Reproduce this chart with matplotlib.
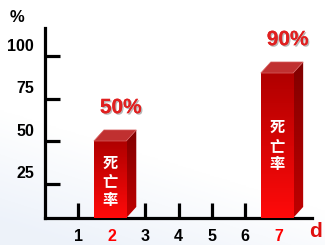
import numpy as np
import matplotlib
matplotlib.use("Agg")
import matplotlib.pyplot as plt
from matplotlib.patches import Polygon
import matplotlib.patheffects as pe

plt.rcParams['font.family'] = ['Liberation Sans', 'Noto Sans CJK SC', 'DejaVu Sans']

days = [1, 2, 3, 4, 5, 6, 7]
day_colors = ['black', 'red', 'black', 'black', 'black', 'black', 'red']
bar_days = [2, 7]
bar_values = [50, 90]
bar_labels = ['50%', '90%']
bar_text = '死\n亡\n率'
y_ticks = [25, 50, 75, 100]

W, H = 325, 245
fig = plt.figure(figsize=(W / 100, H / 100), dpi=100)

# faint bluish background towards the bottom left
bg = fig.add_axes([0, 0, 1, 1], zorder=-10)
gx, gy = np.meshgrid(np.linspace(0, 1, 200), np.linspace(0, 1, 200))
g = np.clip(1.2 - gy * 2.2 - gx * 0.9, 0, 1)
cols = np.ones((200, 200, 3))
cols[..., 0] -= 0.07 * g
cols[..., 1] -= 0.05 * g
cols[..., 2] -= 0.02 * g
bg.imshow(cols, extent=[0, 1, 0, 1], origin='lower', aspect='auto')
bg.axis('off')

x0, x1, ytop, ybot = 45, 312, 28, 218
ymin, ymax = 4.7, 116.5
ax = fig.add_axes([x0 / W, (H - ybot) / H, (x1 - x0) / W, (ybot - ytop) / H])
ax.set_facecolor('none')
for s in ['top', 'right']:
    ax.spines[s].set_visible(False)
for s in ['left', 'bottom']:
    ax.spines[s].set_linewidth(2.3)

ax.set_yticks(y_ticks)
ax.set_yticklabels([])
ax.tick_params(axis='y', direction='in', length=11, width=2.3)
for v in y_ticks:
    ax.annotate(str(v), xy=(0, v), xytext=(-8, 7), textcoords='offset points',
                ha='right', va='center', fontsize=11.5, fontweight='bold')

ax.set_xticks(days)
ax.set_xticklabels([str(d) for d in days], fontsize=11.5, fontweight='bold')
ax.tick_params(axis='x', direction='in', length=11, width=2.3, pad=8)
for lab, c in zip(ax.get_xticklabels(), day_colors):
    lab.set_color(c)

# 3d bars
w = 0.97
dx, dy = 0.3, 6.5
grad = np.linspace(0, 1, 100).reshape(-1, 1)
front_cmap = matplotlib.colors.LinearSegmentedColormap.from_list('f', ['#ff0a0a', '#b00000'])
side_cmap = matplotlib.colors.LinearSegmentedColormap.from_list('s', ['#c00000', '#800000'])
for d, v, lab in zip(bar_days, bar_values, bar_labels):
    cx = d - 0.05
    left, right = cx - w / 2, cx + w / 2
    bars = ax.bar(cx, v, width=w, color='#d00000', zorder=3)
    rect = bars[0]
    im = ax.imshow(grad, extent=[left, right, ymin, v], origin='lower', cmap=front_cmap,
                   aspect='auto', zorder=3.1)
    im.set_clip_path(rect)
    side = Polygon([(right, ymin), (right + dx, ymin + dy), (right + dx, v + dy), (right, v)],
                   closed=True, facecolor='none', edgecolor='none', zorder=2.9)
    ax.add_patch(side)
    sim = ax.imshow(grad, extent=[right, right + dx, ymin, v + dy], origin='lower', cmap=side_cmap,
                    aspect='auto', zorder=2.9)
    sim.set_clip_path(side)
    top = Polygon([(left, v), (left + dx, v + dy), (right + dx, v + dy), (right, v)],
                  closed=True, facecolor='#c03030', edgecolor='#d86060', lw=0.5, zorder=3.2)
    ax.add_patch(top)
    ax.text(cx, v * 0.525, bar_text, ha='center', va='center',
            color='white', fontsize=11, fontweight='bold', linespacing=1.2,
            family=['Noto Sans CJK SC'], zorder=4)
    ax.annotate(lab, xy=(d, v), xytext=(6.5, 24), textcoords='offset points',
                ha='center', va='center', color='#e02020', fontsize=15, fontweight='bold',
                zorder=5,
                path_effects=[pe.withSimplePatchShadow(offset=(1, -1), shadow_rgbFace='#888888',
                                                       alpha=0.6), pe.Normal()])
ax.set_ylim(ymin, ymax)
ax.set_xlim(0, 8)

fig.text(316 / W, 1 - 231 / H, 'd', ha='center', va='center', color='#e01010',
         fontsize=15, fontweight='bold')
fig.text(17 / W, 1 - 18 / H, '%', ha='center', va='center', fontsize=12, fontweight='bold')

fig.savefig('out.png', dpi=100)
